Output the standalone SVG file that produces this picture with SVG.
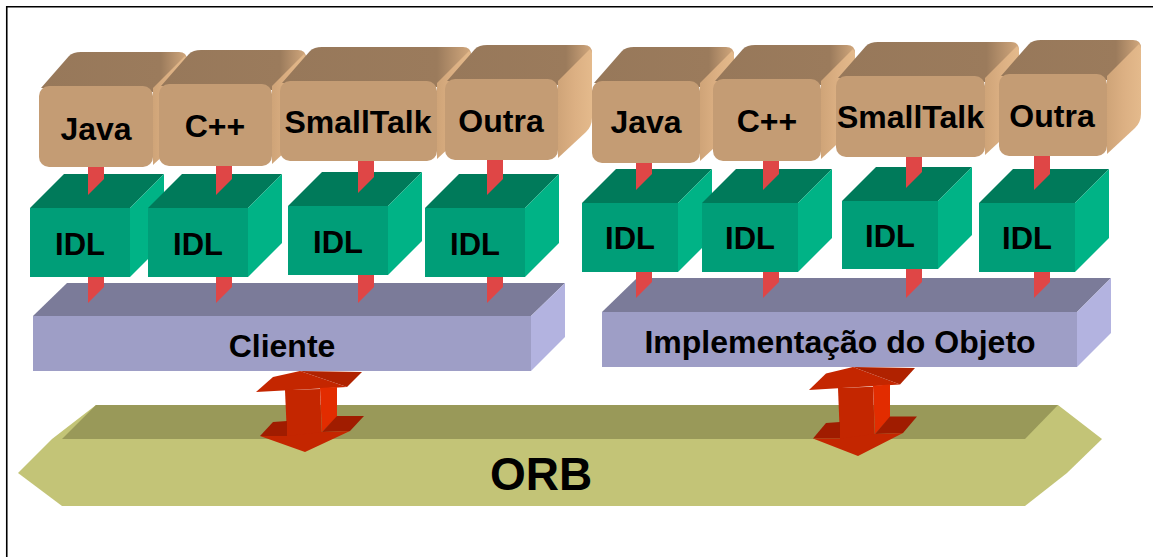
<svg xmlns="http://www.w3.org/2000/svg" width="1153" height="557" viewBox="0 0 1153 557">
<defs>
<linearGradient id="gSide" x1="0" y1="0" x2="1" y2="0">
<stop offset="0" stop-color="#CFA478"/><stop offset="0.5" stop-color="#DCB083"/><stop offset="1" stop-color="#E4BA8C"/>
</linearGradient>
<linearGradient id="gTop" x1="0" y1="0" x2="1" y2="0">
<stop offset="0" stop-color="#97785A"/><stop offset="0.82" stop-color="#9B7B5C"/><stop offset="1" stop-color="#D2A87D"/>
</linearGradient>
</defs>
<style>
.t{font-family:"Liberation Sans",Arial,sans-serif;font-weight:bold;fill:#000;text-anchor:middle}
.lf{fill:#C49C74}.lt{fill:url(#gTop)}.ls{fill:url(#gSide)}
.if{fill:#009E78}.it{fill:#007A5A}.is{fill:#00B386}
.sf{fill:#9E9EC6}.st{fill:#7B7B99}.ss{fill:#B3B3E0}
.bar{fill:#DF4646}
.ar{fill:#C42600}.ad{fill:#A01C00}.ab{fill:#B02200}.as{fill:#E22C00}
</style>
<rect width="1153" height="557" fill="#fff"/>
<path d="M6,6.75H1153M6.75,6V557" stroke="#000" stroke-width="1.6" fill="none"/>

<g id="orb">
<polygon points="18,473 52,439 96,405 1058,405 1102,439 1067,473 1025,506 62,506" fill="#C3C477"/>
<polygon points="96,405 1058,405 1025,439 62,439" fill="#999959"/>
<text class="t" x="541" y="490" font-size="46">ORB</text>
</g>

<g id="cliente">
<polygon class="st" points="33,316 67,283 565,283 531,316"/>
<polygon class="ss" points="531,316 565,283 565,337 531,371"/>
<rect class="sf" x="33" y="316" width="498" height="55"/>
<text class="t" x="282" y="357" font-size="32">Cliente</text>
</g>
<g id="implementacao">
<polygon class="st" points="602,312 637,278 1111,278 1077,312"/>
<polygon class="ss" points="1077,312 1111,278 1111,333 1077,367"/>
<rect class="sf" x="602" y="312" width="475" height="55"/>
<text class="t" x="840" y="353" font-size="32">Implementação do Objeto</text>
</g>

<g id="idl1" transform="translate(30,208)">
<polygon class="it" points="0,0 34,-34 134,-34 100,0"/><polygon class="is" points="100,0 134,-34 134,35 100,69"/>
<rect class="if" width="100" height="69"/><text class="t" x="50" y="47" font-size="31">IDL</text>
</g>
<g id="idl2" transform="translate(148,208)">
<polygon class="it" points="0,0 34,-34 134,-34 100,0"/><polygon class="is" points="100,0 134,-34 134,35 100,69"/>
<rect class="if" width="100" height="69"/><text class="t" x="50" y="47" font-size="31">IDL</text>
</g>
<g id="idl3" transform="translate(288,206)">
<polygon class="it" points="0,0 34,-34 134,-34 100,0"/><polygon class="is" points="100,0 134,-34 134,35 100,69"/>
<rect class="if" width="100" height="69"/><text class="t" x="50" y="47" font-size="31">IDL</text>
</g>
<g id="idl4" transform="translate(425,208)">
<polygon class="it" points="0,0 34,-34 134,-34 100,0"/><polygon class="is" points="100,0 134,-34 134,35 100,69"/>
<rect class="if" width="100" height="69"/><text class="t" x="50" y="47" font-size="31">IDL</text>
</g>
<g id="idl5" transform="translate(582,203)">
<polygon class="it" points="0,0 34,-34 130,-34 96,0"/><polygon class="is" points="96,0 130,-34 130,35 96,69"/>
<rect class="if" width="96" height="69"/><text class="t" x="48" y="46" font-size="31">IDL</text>
</g>
<g id="idl6" transform="translate(702,203)">
<polygon class="it" points="0,0 34,-34 130,-34 96,0"/><polygon class="is" points="96,0 130,-34 130,35 96,69"/>
<rect class="if" width="96" height="69"/><text class="t" x="48" y="46" font-size="31">IDL</text>
</g>
<g id="idl7" transform="translate(842,201)">
<polygon class="it" points="0,0 34,-34 130,-34 96,0"/><polygon class="is" points="96,0 130,-34 130,34 96,68"/>
<rect class="if" width="96" height="68"/><text class="t" x="48" y="46" font-size="31">IDL</text>
</g>
<g id="idl8" transform="translate(979,203)">
<polygon class="it" points="0,0 34,-34 130,-34 96,0"/><polygon class="is" points="96,0 130,-34 130,35 96,69"/>
<rect class="if" width="96" height="69"/><text class="t" x="48" y="46" font-size="31">IDL</text>
</g>

<g id="java1" transform="translate(39,86)">
<path class="lt" d="M2,2 L30,-30 Q34,-34 42,-34 L140,-34 Q148,-34 148,-26 L114,6 Z"/>
<path class="ls" d="M114,2 L146,-30 Q148,-28 148,-24 L148,39 Q148,47 142,53 L114,79 Z"/>
<rect class="lf" width="114" height="81" rx="10"/><text class="t" x="57" y="54" font-size="32">Java</text>
</g>
<g id="cpp1" transform="translate(159,84)">
<path class="lt" d="M2,2 L30,-30 Q34,-34 42,-34 L139,-34 Q147,-34 147,-26 L113,6 Z"/>
<path class="ls" d="M113,2 L145,-30 Q147,-28 147,-24 L147,40 Q147,48 141,54 L113,80 Z"/>
<rect class="lf" width="113" height="82" rx="10"/><text class="t" x="56" y="53" font-size="32">C++</text>
</g>
<g id="smalltalk1" transform="translate(280,81)">
<path class="lt" d="M2,2 L30,-30 Q34,-34 42,-34 L183,-34 Q191,-34 191,-26 L157,6 Z"/>
<path class="ls" d="M157,2 L189,-30 Q191,-28 191,-24 L191,38 Q191,46 185,52 L157,78 Z"/>
<rect class="lf" width="157" height="80" rx="10"/><text class="t" x="78" y="52" font-size="32">SmallTalk</text>
</g>
<g id="outra1" transform="translate(445,79)">
<path class="lt" d="M2,2 L30,-30 Q34,-34 42,-34 L139,-34 Q147,-34 147,-26 L113,6 Z"/>
<path class="ls" d="M113,2 L145,-30 Q147,-28 147,-24 L147,39 Q147,47 141,53 L113,79 Z"/>
<rect class="lf" width="113" height="81" rx="10"/><text class="t" x="56" y="53" font-size="32">Outra</text>
</g>
<g id="java2" transform="translate(592,81)">
<path class="lt" d="M2,2 L30,-30 Q34,-34 42,-34 L134,-34 Q142,-34 142,-26 L108,6 Z"/>
<path class="ls" d="M108,2 L140,-30 Q142,-28 142,-24 L142,40 Q142,48 136,54 L108,80 Z"/>
<rect class="lf" width="108" height="82" rx="10"/><text class="t" x="54" y="52" font-size="32">Java</text>
</g>
<g id="cpp2" transform="translate(713,79)">
<path class="lt" d="M2,2 L30,-30 Q34,-34 42,-34 L134,-34 Q142,-34 142,-26 L108,6 Z"/>
<path class="ls" d="M108,2 L140,-30 Q142,-28 142,-24 L142,40 Q142,48 136,54 L108,80 Z"/>
<rect class="lf" width="108" height="82" rx="10"/><text class="t" x="54" y="53" font-size="32">C++</text>
</g>
<g id="smalltalk2" transform="translate(836,76)">
<path class="lt" d="M2,2 L30,-30 Q34,-34 42,-34 L175,-34 Q183,-34 183,-26 L149,6 Z"/>
<path class="ls" d="M149,2 L181,-30 Q183,-28 183,-24 L183,39 Q183,47 177,53 L149,79 Z"/>
<rect class="lf" width="149" height="81" rx="10"/><text class="t" x="74.5" y="52" font-size="32">SmallTalk</text>
</g>
<g id="outra2" transform="translate(999,74)">
<path class="lt" d="M2,2 L30,-30 Q34,-34 42,-34 L134,-34 Q142,-34 142,-26 L108,6 Z"/>
<path class="ls" d="M108,2 L140,-30 Q142,-28 142,-24 L142,40 Q142,48 136,54 L108,80 Z"/>
<rect class="lf" width="108" height="82" rx="10"/><text class="t" x="53" y="53" font-size="32">Outra</text>
</g>

<g id="connectors">
<polygon class="bar" points="88,167 104,167 104,179 88,195"/>
<polygon class="bar" points="216,166 232,166 232,179 216,195"/>
<polygon class="bar" points="358,161 374,161 374,177 358,193"/>
<polygon class="bar" points="487,160 503,160 503,179 487,195"/>
<polygon class="bar" points="636,163 652,163 652,174 636,190"/>
<polygon class="bar" points="763,161 779,161 779,174 763,190"/>
<polygon class="bar" points="906,157 922,157 922,172 906,188"/>
<polygon class="bar" points="1034,156 1050,156 1050,174 1034,190"/>
<polygon class="bar" points="88,277 104,277 104,287 88,303"/>
<polygon class="bar" points="216,277 232,277 232,287 216,303"/>
<polygon class="bar" points="358,275 374,275 374,287 358,303"/>
<polygon class="bar" points="487,277 503,277 503,287 487,303"/>
<polygon class="bar" points="636,272 652,272 652,282 636,298"/>
<polygon class="bar" points="763,272 779,272 779,282 763,298"/>
<polygon class="bar" points="906,269 922,269 922,282 906,298"/>
<polygon class="bar" points="1034,272 1050,272 1050,282 1034,298"/>
<g id="arrow1">
<polygon class="ar" points="256,392 273,377 300,371 347,387"/>
<polygon class="ab" points="300,371 362,372 347,387"/>
<polygon class="as" points="320,388 337,387 337,417 322,432"/>
<polygon class="ar" points="285,390 320,389 322,437 287,437"/>
<polygon class="ad" points="260,436 273,422 287,421 287,436"/>
<polygon class="ad" points="322,432 337,416 364,416 350,431"/>
<polygon class="ar" points="260,436 305,452 350,431 322,432 287,436"/>
</g>
<g id="arrow2" transform="translate(553,367) scale(1,1.1) translate(0,-371)">
<polygon class="ar" points="256,392 273,377 300,371 347,387"/>
<polygon class="ab" points="300,371 362,372 347,387"/>
<polygon class="as" points="320,388 337,387 337,417 322,432"/>
<polygon class="ar" points="285,390 320,389 322,437 287,437"/>
<polygon class="ad" points="260,436 273,422 287,421 287,436"/>
<polygon class="ad" points="322,432 337,416 364,416 350,431"/>
<polygon class="ar" points="260,436 305,452 350,431 322,432 287,436"/>
</g>
</g>
</svg>
